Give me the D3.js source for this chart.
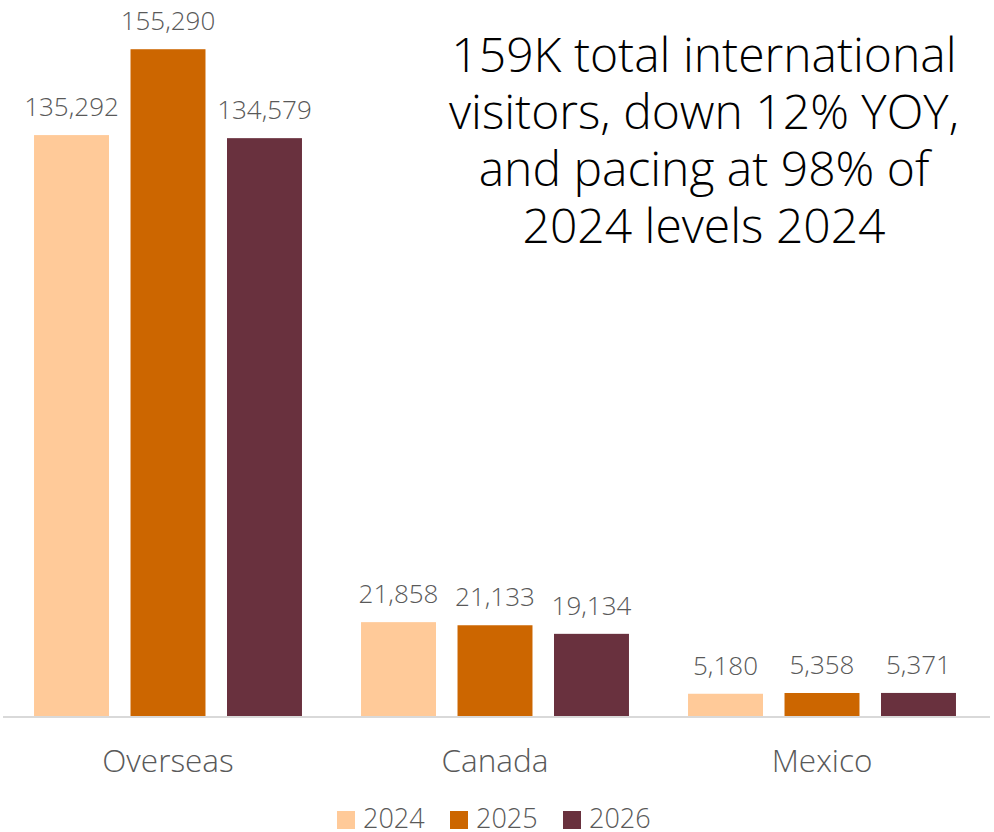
<!DOCTYPE html>
<html>
<head>
<meta charset="utf-8">
<script src="https://cdn.jsdelivr.net/npm/d3@7"></script>
<style>
  body { margin: 0; background: #fff; }
  svg { display: block; font-family: "Open Sans", "Noto Sans", sans-serif; }
</style>
</head>
<body>
<div id="chart"></div>
<script>
// data
const categories = ["Overseas", "Canada", "Mexico"];
const years = ["2024", "2025", "2026"];
const visitors2024 = [135292, 21858, 5180];
const visitors2025 = [155290, 21133, 5358];
const visitors2026 = [134579, 19134, 5371];
const colors = ["#FFCA99", "#CC6600", "#69313E"];
const titleLines = ["159K total international", "visitors, down 12% YOY,", "and pacing at 98% of", "2024 levels 2024"];

const width = 994, height = 832;
const margin = {top: 29, right: 8.5, bottom: 116, left: 4.5};

const series = [visitors2024, visitors2025, visitors2026];
const data = categories.map((c, i) => ({
  category: c,
  values: years.map((y, j) => ({year: y, value: series[j][i]}))
}));

const svg = d3.select("#chart")
  .append("svg")
    .attr("width", width)
    .attr("height", height);

// scales
const x0 = d3.scaleBand()
  .domain(categories)
  .range([margin.left, width - margin.right])
  .padding(0);

const x1 = d3.scaleBand()
  .domain(years)
  .range([0, x0.bandwidth()])
  .paddingInner(0.223)
  .paddingOuter(0.306);

const y = d3.scaleLinear()
  .domain([0, 160000])
  .range([height - margin.bottom, margin.top]);

const color = d3.scaleOrdinal().domain(years).range(colors);

// bars
const groups = svg.append("g")
  .selectAll("g")
  .data(data)
  .join("g")
    .attr("transform", d => `translate(${x0(d.category)},0)`);

groups.selectAll("rect")
  .data(d => d.values)
  .join("rect")
    .attr("x", d => x1(d.year))
    .attr("y", d => y(d.value))
    .attr("width", x1.bandwidth())
    .attr("height", d => y(0) - y(d.value))
    .attr("fill", d => color(d.year));

// value labels
groups.selectAll("text")
  .data(d => d.values)
  .join("text")
    .attr("x", d => x1(d.year) + x1.bandwidth() / 2)
    .attr("y", d => y(d.value) - 19)
    .attr("text-anchor", "middle")
    .attr("font-size", "26px")
    .attr("font-weight", 300)
    .attr("fill", "#595959")
    .text(d => d3.format(",")(d.value));

// x axis
const xAxis = svg.append("g")
  .attr("transform", `translate(0,${y(0) + 1})`)
  .call(d3.axisBottom(x0).tickSize(0).tickPadding(33).tickSizeOuter(0));

xAxis.select(".domain")
  .attr("d", `M3,0H990`)
  .attr("stroke", "#d9d9d9")
  .attr("stroke-width", 2);

xAxis.selectAll("text")
  .attr("font-family", "'Open Sans', 'Noto Sans', sans-serif")
  .attr("font-size", "31.5px")
  .attr("font-weight", 300)
  .attr("fill", "#595959");

// legend
const legend = svg.append("g")
  .attr("transform", `translate(337,${height - 21})`);

const item = legend.selectAll("g")
  .data(years)
  .join("g")
    .attr("transform", (d, i) => `translate(${i * 113},0)`);

item.append("rect")
  .attr("width", 18)
  .attr("height", 18)
  .attr("fill", d => color(d));

item.append("text")
  .attr("x", 26)
  .attr("y", 17)
  .attr("font-size", "27px")
  .attr("font-weight", 300)
  .attr("fill", "#595959")
  .text(d => d);

// title annotation
svg.append("text")
  .attr("text-anchor", "middle")
  .attr("font-size", "48px")
  .attr("font-weight", 300)
  .attr("fill", "#000")
  .selectAll("tspan")
  .data(titleLines)
  .join("tspan")
    .attr("x", 704)
    .attr("y", (d, i) => 72 + i * 57)
    .text(d => d);
</script>
</body>
</html>
